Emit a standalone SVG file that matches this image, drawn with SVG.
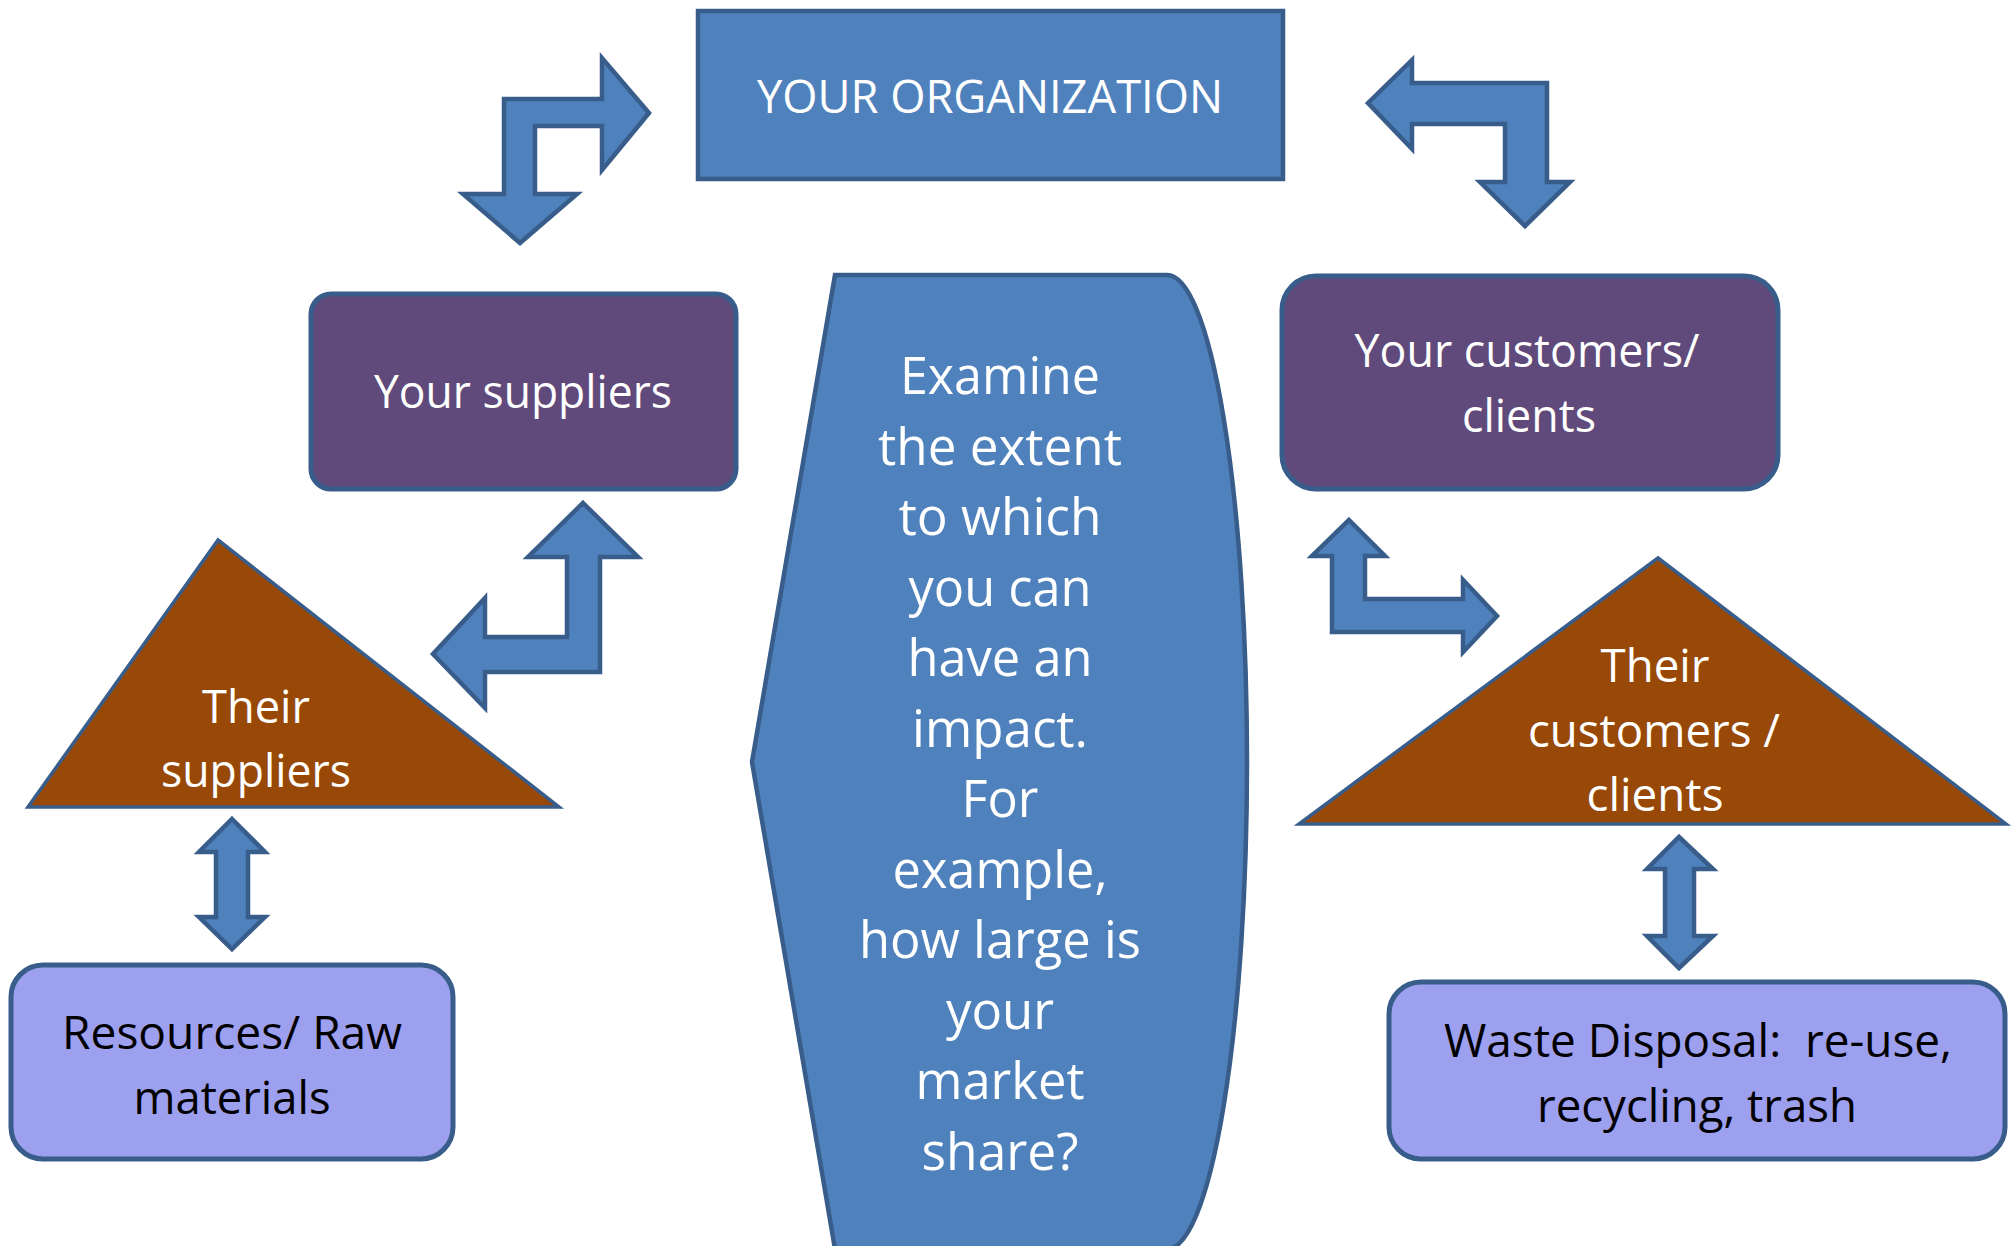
<svg xmlns="http://www.w3.org/2000/svg" width="2015" height="1246" viewBox="0 0 2015 1246">
<style>
.blue{fill:#4F81BD;stroke:#385D8A;stroke-width:4.5}
.purple{fill:#604A7B;stroke:#385D8A;stroke-width:5}
.lilac{fill:#9D9FEF;stroke:#385D8A;stroke-width:5}
.brown{fill:#984807;stroke:#385D8A;stroke-width:3.5}
.arrow{fill:#4F81BD;stroke:#385D8A;stroke-width:4.5;stroke-linejoin:miter}
text{font-family:"Open Sans","Liberation Sans",sans-serif;font-size:46px;text-anchor:middle;fill:#FFFFFF}
.big{font-size:51px}
.dark{fill:#000000}
.pre{white-space:pre}
</style>
<rect width="2015" height="1246" fill="#FFFFFF"/>
<g id="connectors">
<polygon class="arrow" points="520,243 577,194 535,194 535,126 602,126 602,170 649,113 602,58 602,99 504,99 504,194 463,194"/>
<polygon class="arrow" points="1368,103 1412,60 1412,83 1547,83 1547,182 1570,182 1525,226 1480,182 1505,182 1505,124 1412,124 1412,149"/>
<polygon class="arrow" points="583,503 638,557 600,557 600,672 485,672 485,708 433,654 485,598 485,637 567,637 567,557 528,557"/>
<polygon class="arrow" points="1349,520 1385,556 1365,556 1365,599 1463,599 1463,580 1497,616 1463,652 1463,632 1332,632 1332,556 1312,556"/>
<polygon class="arrow" points="232,819 265,852 248,852 248,917 265,917 232,949 199,917 216,917 216,852 199,852"/>
<polygon class="arrow" points="1679,837 1713,869 1694,869 1694,936 1713,936 1679,968 1647,936 1665,936 1665,869 1647,869"/>
</g>
<g id="org">
<rect class="blue" x="698" y="11" width="585" height="168"/>
<text x="990" y="113" textLength="466" lengthAdjust="spacingAndGlyphs">YOUR ORGANIZATION</text>
</g>
<g id="center">
<path class="blue" d="M752,762 L835,275 L1167,275 A80,487 0 0 1 1167,1249 L835,1249 Z"/>
<text class="big" x="1000" y="394" textLength="200" lengthAdjust="spacingAndGlyphs">Examine</text>
<text class="big" x="1000" y="464.5" textLength="244" lengthAdjust="spacingAndGlyphs">the extent</text>
<text class="big" x="1000" y="535" textLength="203" lengthAdjust="spacingAndGlyphs">to which</text>
<text class="big" x="1000" y="605.5" textLength="183" lengthAdjust="spacingAndGlyphs">you can</text>
<text class="big" x="1000" y="676" textLength="185" lengthAdjust="spacingAndGlyphs">have an</text>
<text class="big" x="1000" y="746.5" textLength="176" lengthAdjust="spacingAndGlyphs">impact.</text>
<text class="big" x="1000" y="817" textLength="77" lengthAdjust="spacingAndGlyphs">For</text>
<text class="big" x="1000" y="887.5" textLength="215" lengthAdjust="spacingAndGlyphs">example,</text>
<text class="big" x="1000" y="958" textLength="282" lengthAdjust="spacingAndGlyphs">how large is</text>
<text class="big" x="1000" y="1028.5" textLength="108" lengthAdjust="spacingAndGlyphs">your</text>
<text class="big" x="1000" y="1099" textLength="169" lengthAdjust="spacingAndGlyphs">market</text>
<text class="big" x="1000" y="1169.5" textLength="157" lengthAdjust="spacingAndGlyphs">share?</text>
</g>
<g id="suppliers">
<rect class="purple" x="311" y="294" width="425" height="195" rx="20"/>
<text x="523" y="408" textLength="298" lengthAdjust="spacingAndGlyphs">Your suppliers</text>
</g>
<g id="customers">
<rect class="purple" x="1282" y="276" width="496" height="213" rx="34"/>
<text x="1527" y="367" textLength="345" lengthAdjust="spacingAndGlyphs">Your customers/</text>
<text x="1529" y="432" textLength="134" lengthAdjust="spacingAndGlyphs">clients</text>
</g>
<g id="their-suppliers">
<polygon class="brown" points="218,540 559,807 28,807"/>
<text x="256" y="723" textLength="108" lengthAdjust="spacingAndGlyphs">Their</text>
<text x="256" y="787" textLength="190" lengthAdjust="spacingAndGlyphs">suppliers</text>
</g>
<g id="their-customers">
<polygon class="brown" points="1658,558 2006,824 1299,824"/>
<text x="1655" y="682" textLength="109" lengthAdjust="spacingAndGlyphs">Their</text>
<text x="1654" y="747" textLength="252" lengthAdjust="spacingAndGlyphs">customers /</text>
<text x="1655" y="811" textLength="137" lengthAdjust="spacingAndGlyphs">clients</text>
</g>
<g id="resources">
<rect class="lilac" x="11" y="965" width="442" height="194" rx="32"/>
<text class="dark" x="232" y="1049" textLength="340" lengthAdjust="spacingAndGlyphs">Resources/ Raw</text>
<text class="dark" x="232" y="1114" textLength="197" lengthAdjust="spacingAndGlyphs">materials</text>
</g>
<g id="waste">
<rect class="lilac" x="1389" y="982" width="616" height="177" rx="32"/>
<text class="dark pre" xml:space="preserve" x="1698" y="1057" textLength="508" lengthAdjust="spacingAndGlyphs">Waste Disposal:  re-use,</text>
<text class="dark" x="1697" y="1122" textLength="320" lengthAdjust="spacingAndGlyphs">recycling, trash</text>
</g>
</svg>
